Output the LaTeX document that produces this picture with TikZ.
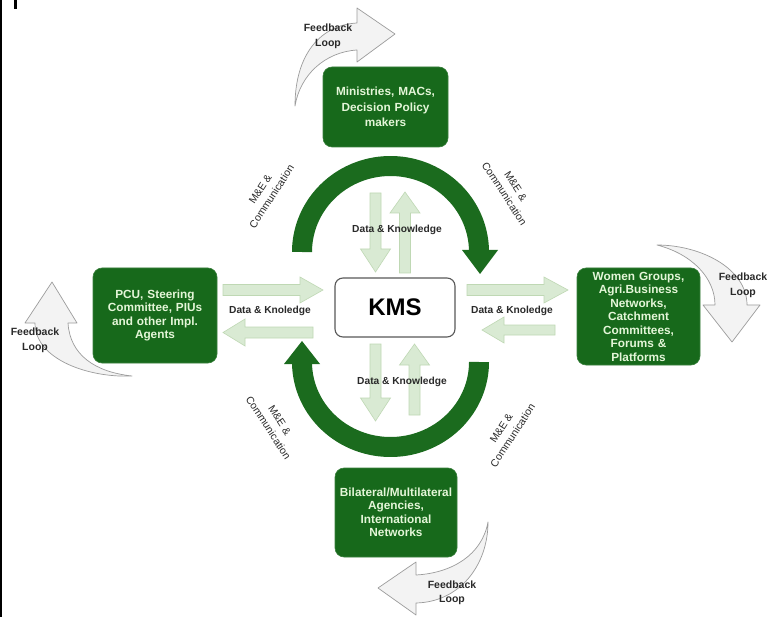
\documentclass[tikz,border=0pt]{standalone}
\usepackage{fontspec}
\setmainfont{Liberation Sans}
\definecolor{dkgreen}{HTML}{17691B}
\definecolor{arcgreen}{HTML}{1B6B1E}
\definecolor{boxtext}{HTML}{E4F6D8}
\definecolor{lgfill}{HTML}{D9EAD3}
\definecolor{lgline}{HTML}{BFD8B4}
\definecolor{fbfill}{HTML}{F3F3F3}
\definecolor{fbline}{HTML}{9C9C9C}
\definecolor{lbl}{HTML}{2A2A2A}
\begin{document}
\begin{tikzpicture}[x=1pt,y=-1pt,
  gbox/.style={fill=dkgreen, draw=dkgreen!85!white, line width=0.6pt, rounded corners=9pt,
    text=boxtext, align=center, inner sep=0pt, text width=121pt,
    font=\fontsize{11.8}{13.5}\selectfont\bfseries},
  kmsbox/.style={fill=white, draw=black!65, line width=1.1pt, rounded corners=8pt,
    minimum width=120pt, minimum height=59pt, font=\fontsize{24}{26}\selectfont\bfseries},
  lgarrow/.style={fill=lgfill, draw=lgline, line width=0.6pt, line join=miter},
  fbarrow/.style={fill=fbfill, draw=fbline, line width=0.7pt, line join=round},
  dklabel/.style={text=lbl, font=\fontsize{10.2}{12}\selectfont\bfseries, inner sep=0pt},
  fblabel/.style={text=lbl, align=center, font=\fontsize{10.5}{14.5}\selectfont\bfseries, inner sep=0pt},
  melabel/.style={text=lbl, align=center, font=\fontsize{10.5}{13.5}\selectfont, inner sep=0pt},
  arcstroke/.style={draw=arcgreen, line width=20pt}
]
\useasboundingbox (0,0) rectangle (773,617);
\fill[white] (0,0) rectangle (773,617);
\fill[black] (0,0) rectangle (1.6,617);
\fill[black] (14,0) rectangle (17,9);

% feedback arrows
\draw[fbarrow] (295,106) .. controls (295,55) and (320,25) .. (357,23) -- (357,8) -- (395,34) -- (357,62) -- (357,50) .. controls (325,52) and (300,75) .. (295,106) -- cycle;
\draw[fbarrow] (132,376) .. controls (95,372) and (70,355) .. (68,323) -- (77,323) -- (52,282) -- (25,323) -- (35,323) .. controls (35,360) and (90,378) .. (132,376) -- cycle;
\draw[fbarrow] (657,245) .. controls (700,245) and (747,268) .. (747,305) -- (760,305) -- (732,342) -- (703,305) -- (715,305) .. controls (715,278) and (692,254) .. (657,245) -- cycle;
\draw[fbarrow] (488,522) .. controls (488,565) and (460,602) .. (416,603) -- (416,615) -- (378,588) -- (416,562) -- (416,575) .. controls (452,573) and (482,555) .. (488,522) -- cycle;

\node[fblabel] (fbtop) at (328,36.5) {Feedback\\Loop};
\node[fblabel] (fbleft) at (35,340.5) {Feedback\\Loop};
\node[fblabel] (fbright) at (743,285.5) {Feedback\\Loop};
\node[fblabel] (fbbottom) at (452,593) {Feedback\\Loop};

% boxes
\node[gbox, minimum width=125pt, minimum height=80pt, font=\fontsize{11.8}{15.5}\selectfont\bfseries] (top) at (385.5,107) {Ministries, MACs,\\Decision Policy\\makers};
\node[gbox, minimum width=124pt, minimum height=95pt] (left) at (155,315.5) {PCU, Steering\\Committee, PIUs\\and other Impl.\\Agents};
\node[gbox, minimum width=123pt, minimum height=97pt] (right) at (638.5,316.5) {Women Groups,\\Agri.Business\\Networks,\\Catchment\\Committees,\\Forums \&\\Platforms};
\node[gbox, minimum width=122pt, minimum height=89pt] (bottom) at (396,512.5) {Bilateral/Multilateral\\Agencies,\\International\\Networks};
\node[kmsbox] (kms) at (395,307.5) {KMS};

% big arcs
\draw[arcstroke] plot[domain=0:180, samples=90] ({390.5+88.5*cos(\x)},{252-86*sin(\x)});
\fill[arcgreen] (462,250) -- (498,250) -- (480,274) -- cycle;
\draw[arcstroke] plot[domain=0:180, samples=90] ({390.5+88.5*cos(\x)},{362+85*sin(\x)});
\fill[arcgreen] (284,364) -- (320,364) -- (302,341) -- cycle;

% light green arrows, vertical
\draw[lgarrow] (370,193) -- (381,193) -- (381,249) -- (390.5,249) -- (375.5,272) -- (360.5,249) -- (370,249) -- cycle;
\draw[lgarrow] (399.5,273) -- (410.5,273) -- (410.5,213) -- (420,213) -- (405,192) -- (390,213) -- (399.5,213) -- cycle;
\draw[lgarrow] (370,344) -- (381,344) -- (381,398) -- (390.5,398) -- (375.5,421) -- (360.5,398) -- (370,398) -- cycle;
\draw[lgarrow] (409,415) -- (420,415) -- (420,365) -- (429.5,365) -- (414.5,344) -- (399.5,365) -- (409,365) -- cycle;
% horizontal
\draw[lgarrow] (223,284.5) -- (300,284.5) -- (300,277) -- (323,290) -- (300,303) -- (300,295.5) -- (223,295.5) -- cycle;
\draw[lgarrow] (313,327) -- (245,327) -- (245,319) -- (223,332.5) -- (245,346) -- (245,338) -- (313,338) -- cycle;
\draw[lgarrow] (467,284.5) -- (544,284.5) -- (544,277) -- (568,290) -- (544,303) -- (544,295.5) -- (467,295.5) -- cycle;
\draw[lgarrow] (555,325) -- (504,325) -- (504,317) -- (482,330) -- (504,343) -- (504,335) -- (555,335) -- cycle;

% labels
\node[dklabel] (dktop) at (397,230) {Data \& Knowledge};
\node[dklabel] (dkbottom) at (402,382) {Data \& Knowledge};
\node[dklabel] (dkleft) at (270,311) {Data \& Knoledge};
\node[dklabel] (dkright) at (512,311) {Data \& Knoledge};

\node[melabel, rotate=57] (metl) at (266,193) {M\&E \&\\Communication};
\node[melabel, rotate=-57] (metr) at (510,190) {M\&E \&\\Communication};
\node[melabel, rotate=-57] (mebl) at (274,424) {M\&E \&\\Communication};
\node[melabel, rotate=57] (mebr) at (507,432) {M\&E \&\\Communication};
\end{tikzpicture}
\end{document}
